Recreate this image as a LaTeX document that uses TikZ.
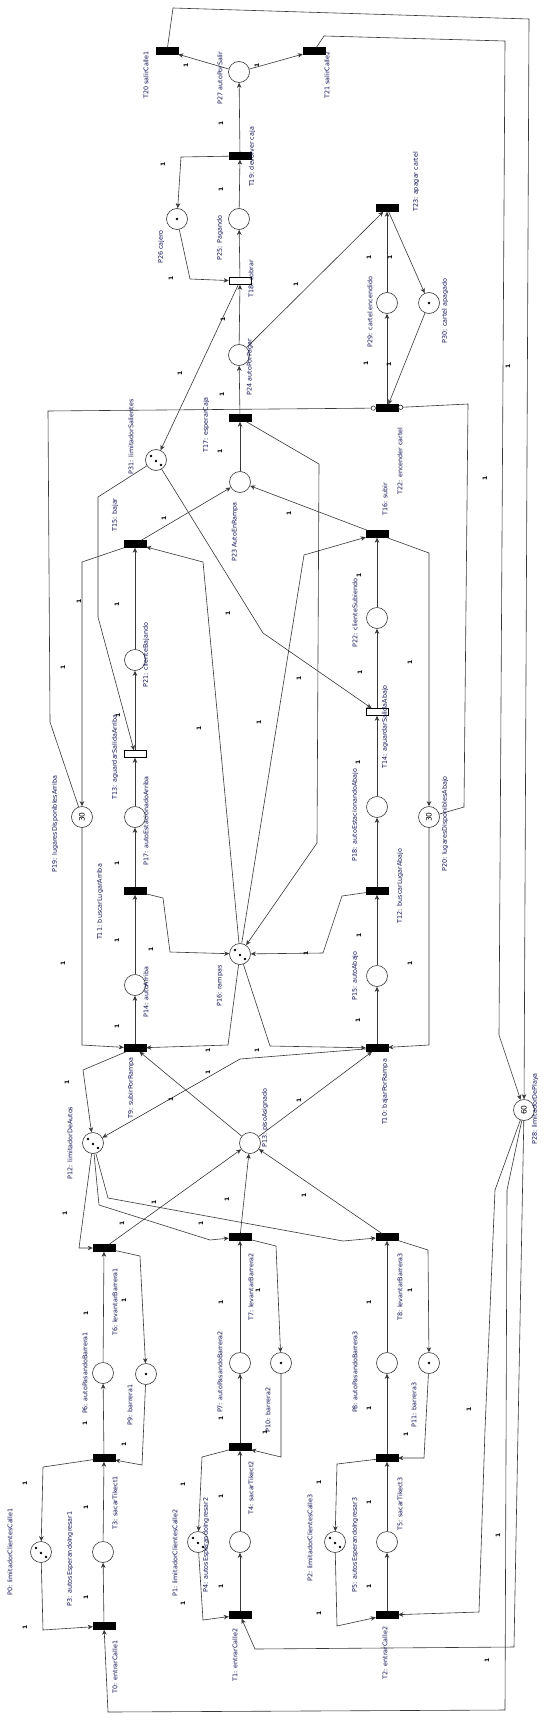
\documentclass[tikz,border=0pt]{standalone}
\usepackage{fontspec}
\setsansfont{DejaVu Sans}
\usetikzlibrary{arrows.meta,calc}
\definecolor{linec}{RGB}{55,55,55}
\definecolor{labc}{RGB}{20,20,85}
\newcommand{\mylabfont}{\sffamily\fontsize{6.4}{7}\selectfont}
\newcommand{\mywfont}{\sffamily\bfseries\fontsize{6}{6}\selectfont}
\newcommand{\mytokfont}{\sffamily\fontsize{7.5}{8}\selectfont}
\begin{document}
\begin{tikzpicture}[x=1pt,y=-1pt,
  place/.style={circle,draw=linec,line width=0.6pt,minimum size=21pt,inner sep=0pt,fill=white},
  trans/.style={rectangle,fill=black,draw=black,line width=0.4pt,minimum width=22pt,minimum height=7pt,inner sep=0pt},
  htrans/.style={rectangle,fill=white,draw=black,line width=0.6pt,minimum width=22pt,minimum height=7pt,inner sep=0pt},
  arc/.style={draw=linec,line width=0.6pt,-{Stealth[length=5pt,width=4.5pt,inset=1.5pt]}},
  inh/.style={draw=linec,line width=0.6pt,-{Circle[open,length=5pt,width=5pt]}},
  lab/.style={rotate=90,font=\mylabfont,text=labc,inner sep=0pt},
  w/.style={rotate=90,font=\mywfont,text=black,inner sep=0pt},
  tok/.style={fill=black},
]
\useasboundingbox (0,0) rectangle (544,1720);
\fill[white] (0,0) rectangle (544,1720);

% ---------- places ----------
\node[place] (P0) at (41,1552) {};
\node[place] (P1) at (198,1542) {};
\node[place] (P2) at (335,1542) {};
\node[place] (P3) at (103,1552) {};
\node[place] (P4) at (240,1542) {};
\node[place] (P5) at (387,1542) {};
\node[place] (P6) at (103,1373) {};
\node[place] (P7) at (240,1363) {};
\node[place] (P8) at (387,1363) {};
\node[place] (P9) at (146,1374) {};
\node[place] (P10) at (281,1363) {};
\node[place] (P11) at (429,1363) {};
\node[place] (P12) at (93,1143) {};
\node[place] (P13) at (250,1143) {};
\node[place] (P14) at (135,985) {};
\node[place] (P15) at (377,976) {};
\node[place] (P16) at (240,954) {};
\node[place] (P17) at (135,817) {};
\node[place] (P18) at (377,807) {};
\node[place,rotate=90,font=\mytokfont] (P19) at (82,817) {30};
\node[place,rotate=90,font=\mytokfont] (P20) at (429,817) {30};
\node[place] (P21) at (135,660) {};
\node[place] (P22) at (377,618) {};
\node[place] (P23) at (240,482) {};
\node[place] (P24) at (239,355) {};
\node[place] (P25) at (239,219) {};
\node[place] (P26) at (177,219) {};
\node[place] (P27) at (239,72) {};
\node[place,rotate=90,font=\mytokfont] (P28) at (524,1110) {60};
\node[place] (P29) at (387,303) {};
\node[place] (P30) at (429,303) {};
\node[place] (P31) at (156,460) {};

% tokens
\foreach \p in {P0,P1,P2,P12,P16,P31}{
  \fill[tok] ($(\p)+(-5,-4)$) circle (1.4pt);
  \fill[tok] ($(\p)+(0,1)$) circle (1.4pt);
  \fill[tok] ($(\p)+(5,5)$) circle (1.4pt);
}
\foreach \p in {P9,P10,P11,P26,P30}{
  \fill[tok] (\p) circle (1.4pt);
}

% ---------- transitions ----------
\node[trans] (T0) at (104,1626) {};
\node[trans] (T1) at (240,1615) {};
\node[trans] (T2) at (387,1615) {};
\node[trans] (T3) at (104,1458) {};
\node[trans] (T4) at (240,1447) {};
\node[trans] (T5) at (387,1458) {};
\node[trans] (T6) at (104,1248) {};
\node[trans] (T7) at (240,1237) {};
\node[trans] (T8) at (387,1237) {};
\node[trans] (T9) at (135,1048) {};
\node[trans] (T10) at (377,1048) {};
\node[trans] (T11) at (135,891) {};
\node[trans] (T12) at (377,891) {};
\node[htrans] (T13) at (135,754) {};
\node[htrans] (T14) at (377,712) {};
\node[trans] (T15) at (135,544) {};
\node[trans] (T16) at (377,534) {};
\node[trans] (T17) at (240,418) {};
\node[htrans] (T18) at (240,281) {};
\node[trans] (T19) at (240,156) {};
\node[trans] (T20) at (167,51) {};
\node[trans] (T21) at (314,51) {};
\node[trans] (T22) at (387,408) {};
\node[trans] (T23) at (387,208) {};

% ---------- arcs ----------
\draw[arc] (P27) -- (T20);
\draw[arc] (P27) -- (T21);
\draw[arc] (T19) -- (P27);
\draw[arc] (T19) -- (181,157) -- (P26);
\draw[arc] (P25) -- (T19);
\draw[arc] (P26) -- (190,279) -- (T18);
\draw[arc] (T18) -- (P25);
\draw[arc] (P24) -- (T18);
\draw[arc] (T18) -- (P31);
\draw[arc] (P24) -- (T23);
\draw[arc] (P29) -- (T23);
\draw[arc] (T23) -- (P30);
\draw[arc] (T22) -- (P29);
\draw[arc] (P30) -- (T22);
\draw[inh] (P19) -- (50,722) -- (48,411) -- (T22);
\draw[inh] (P20) -- (464,807) -- (468,404) -- (T22);
\draw[arc] (T17) -- (P24);
\draw[arc] (P23) -- (T17);
\draw[arc] (T15) -- (P23);
\draw[arc] (T16) -- (P23);
\draw[arc] (T17) -- (319,464) -- (317,843) -- (P16);
\draw[arc] (P31) -- (98,497) -- (98,617) -- (T13);
\draw[arc] (P31) -- (263,633) -- (T14);
\draw[arc] (T15) -- (82,562) -- (P19);
\draw[arc] (P21) -- (T15);
\draw[arc] (T13) -- (P21);
\draw[arc] (P17) -- (T13);
\draw[arc] (T11) -- (P17);
\draw[arc] (P14) -- (T11);
\draw[arc] (T11) -- (163,898) -- (170,952) -- (P16);
\draw[arc] (T9) -- (P14);
\draw[arc] (P19) -- (82,1045) -- (T9);
\draw[arc] (P16) -- (228,1045) -- (T9);
\draw[arc] (P16) -- (270,1046) -- (T10);
\draw[arc] (P16) -- (203,562) -- (T15);
\draw[arc] (P16) -- (304,555) -- (T16);
\draw[arc] (T16) -- (429,553) -- (P20);
\draw[arc] (P22) -- (T16);
\draw[arc] (T14) -- (P22);
\draw[arc] (P18) -- (T14);
\draw[arc] (T12) -- (P18);
\draw[arc] (P15) -- (T12);
\draw[arc] (T12) -- (342,896) -- (323,953) -- (P16);
\draw[arc] (T10) -- (P15);
\draw[arc] (P20) -- (429,1045) -- (T10);
\draw[arc] (T9) -- (83,1070) -- (P12);
\draw[arc] (T10) -- (240,1059) -- (P12);
\draw[arc] (P13) -- (T9);
\draw[arc] (P13) -- (T10);
\draw[arc] (P12) -- (79,1248) -- (T6);
\draw[arc] (T6) -- (P13);
\draw[arc] (P12) -- (99,1205) -- (210,1240) -- (T7);
\draw[arc] (P12) -- (108,1198) -- (343,1241) -- (T8);
\draw[arc] (T8) -- (P13);
\draw[arc] (T7) -- (P13);
\draw[arc] (P6) -- (T6);
\draw[arc] (T6) -- (140,1256) -- (P9);
\draw[arc] (P7) -- (T7);
\draw[arc] (T7) -- (276,1246) -- (P10);
\draw[arc] (P8) -- (T8);
\draw[arc] (T8) -- (428,1250) -- (P11);
\draw[arc] (P9) -- (142,1465) -- (T3);
\draw[arc] (T3) -- (P6);
\draw[arc] (T3) -- (43,1467) -- (P0);
\draw[arc] (P3) -- (T3);
\draw[arc] (T0) -- (P3);
\draw[arc] (P0) -- (43,1630) -- (T0);
\draw[arc] (P28) -- (507,1190) -- (505,1710) -- (108,1712) -- (T0);
\draw[arc] (T4) -- (P7);
\draw[arc] (T4) -- (202,1457) -- (P1);
\draw[arc] (P10) -- (281,1457) -- (T4);
\draw[arc] (P4) -- (T4);
\draw[arc] (T1) -- (P4);
\draw[arc] (P1) -- (203,1620) -- (T1);
\draw[arc] (P28) -- (518,1430) -- (514,1647) -- (255,1649) -- (T1);
\draw[arc] (T5) -- (P8);
\draw[arc] (P11) -- (424,1458) -- (T5);
\draw[arc] (T5) -- (337,1464) -- (P2);
\draw[arc] (P5) -- (T5);
\draw[arc] (T2) -- (P5);
\draw[arc] (P2) -- (337,1626) -- (T2);
\draw[arc] (P28) -- (495,1190) -- (485,1430) -- (479,1612) -- (T2);
\draw[arc] (T20) -- (173,8) -- (529,19) -- (P28);
\draw[arc] (T21) -- (324,36) -- (505,41) -- (499,1035) -- (P28);

% ---------- labels ----------
\node[lab] (lT20) at (146,75) {T20 salirCalle1};
\node[lab] (lP27) at (220,78) {P27 autoPorSalir};
\node[lab] (lT21) at (327,75) {T21 salirCalle2};
\node[lab] (lT19) at (252,157) {T19: devolver caja};
\node[lab] (lT23) at (416,182) {T23: apagar cartel};
\node[lab] (lP26) at (161,247) {P26 cajero};
\node[lab] (lP25) at (220,238) {P25: Pagando};
\node[lab] (lT18) at (251,279) {T18: cobrar};
\node[lab] (lP29) at (370,312) {P29: cartel encendido};
\node[lab] (lP30) at (445,311) {P30: cartel apagado};
\node[lab] (lP24) at (250,367) {P24 autoPorPagar};
\node[lab] (lT17) at (206,425) {T17: esperarCaja};
\node[lab] (lP31) at (131,437) {P31: limitadorSalientes};
\node[lab] (lT22) at (400,461) {T22: encender cartel};
\node[lab] (lT16) at (385,499) {T16: subir};
\node[lab] (lP23) at (235,532) {P23 AutoEnRampa};
\node[lab] (lT15) at (115,515) {T15: bajar};
\node[lab] (lP22) at (355,613) {P22: clienteSubiendo};
\node[lab] (lP21) at (146,655) {P21: clienteBajando};
\node[lab] (lT13) at (115,757) {T13: aguardarSalidaArriba};
\node[lab] (lT14) at (385,727) {T14: aguardarSalidaAbajo};
\node[lab] (lP18) at (355,815) {P18: autoEstacionandoAbajo};
\node[lab] (lP17) at (146,821) {P17: autoEstacionadoArriba};
\node[lab] (lP19) at (55,824) {P19: lugaresDisponiblesArriba};
\node[lab] (lP20) at (445,824) {P20: lugaresDisponiblesAbajo};
\node[lab] (lT11) at (100,902) {T11: buscarLugarArriba};
\node[lab] (lT12) at (400,886) {T12: buscarLugarAbajo};
\node[lab] (lP16) at (220,986) {P16: rampas};
\node[lab] (lP14) at (146,992) {P14: autoArriba};
\node[lab] (lP15) at (355,976) {P15: autoAbajo};
\node[lab] (lT9) at (131,1088) {T9: subirPorRampa};
\node[lab] (lT10) at (385,1092) {T10: bajarPorRampa};
\node[lab] (lP13) at (265,1118) {P13: pisoAsignado};
\node[lab] (lP12) at (70,1143) {P12: limitadorDeAutos};
\node[lab] (lP28) at (535,1109) {P28: limitadorDePlaya};
\node[lab] (lT6) at (115,1302) {T6: levantarBarrera1};
\node[lab] (lT7) at (251,1287) {T7: levantarBarrera2};
\node[lab] (lT8) at (400,1287) {T8: levantarBarrera3};
\node[lab] (lP6) at (85,1373) {P6: autoPasandoBarrera1};
\node[lab] (lP9) at (130,1405) {P9: barrera1};
\node[lab] (lP7) at (220,1372) {P7: autoPasandoBarrera2};
\node[lab] (lP10) at (268,1410) {P10: barrera2};
\node[lab] (lP8) at (355,1372) {P8: autoPasandoBarrera3};
\node[lab] (lP11) at (414,1405) {P11: barrera3};
\node[lab] (lT3) at (115,1503) {T3: sacarTikect1};
\node[lab] (lT4) at (251,1488) {T4: sacarTikect2};
\node[lab] (lT5) at (400,1504) {T5: sacarTikect3};
\node[lab] (lP0) at (10,1552) {P0: limitadorClientesCalle1};
\node[lab] (lP3) at (70,1559) {P3: autosEsperandoIngresar1};
\node[lab] (lP1) at (175,1553) {P1: limitadorClientesCalle2};
\node[lab] (lP4) at (206,1545) {P4: autosEsperandoIngresar2};
\node[lab] (lP2) at (310,1538) {P2: limitadorClientesCalle3};
\node[lab] (lP5) at (355,1545) {P5: autosEsperandoIngresar3};
\node[lab] (lT0) at (115,1667) {T0: entrarCalle1};
\node[lab] (lT1) at (235,1655) {T1: entrarCalle2};
\node[lab] (lT2) at (385,1653) {T2: entrarCalle2};

% ---------- weights ----------
\foreach \x/\y [count=\i] in {186/65,257/65,221/123,163/164,221/189,171/278,296/284,369/257,390/257,366/363,389/364,223/319,180/373,222/394,220/451,164/518,289/513,508/366,485/478,79/601,117/604,63/667,118/715,228/613,199/728,259/722,299/678,360/672,359/575,410/662,358/762,117/863,117/940,151/949,63/963,117/1026,208/1050,257/1050,67/1082,208/1072,171/1099,306/953,359/935,410/963,358/1020,299/1100,65/1213,122/1223,154/1202,201/1223,227/1199,258/1290,124/1300,221/1302,86/1313,85/1423,221/1418,304/1195,369/1302,410/1290,369/1408,469/1409,124/1444,25/1483,86/1507,86/1597,25/1627,183/1484,221/1496,221/1586,183/1603,265/1432,406/1434,319/1482,369/1502,369/1586,319/1613,498/1535,487/1660}{
  \node[w] (w\i) at (\x,\y) {1};
}
\end{tikzpicture}
\end{document}
